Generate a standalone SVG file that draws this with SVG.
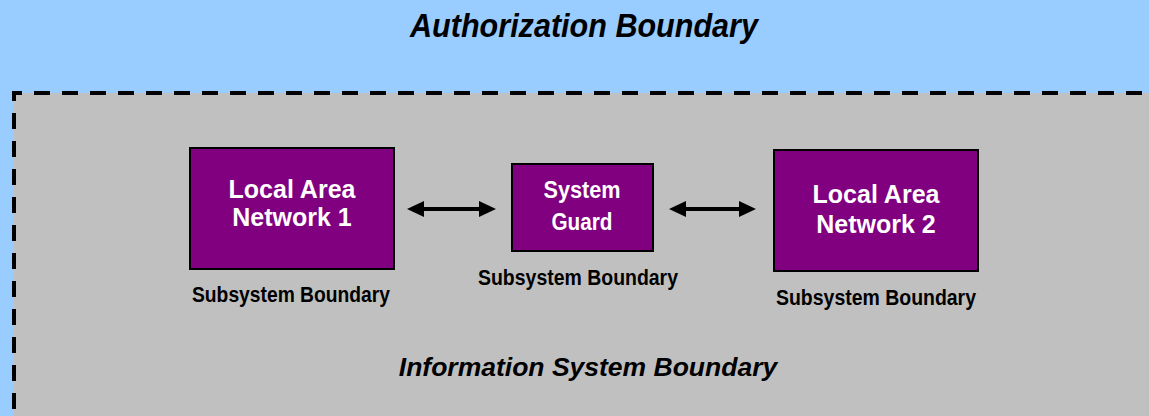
<svg xmlns="http://www.w3.org/2000/svg" width="1149" height="416" viewBox="0 0 1149 416">
  <defs>
    <style>
      .node rect { fill: #800080; stroke: #000000; stroke-width: 2; }
      .node-text { font-family: "Liberation Sans", Arial, sans-serif; font-weight: bold; fill: #FFFFFF; text-anchor: middle; }
      .sub-label { font-family: "Liberation Sans", Arial, sans-serif; font-weight: bold; font-size: 21.5px; fill: #000000; text-anchor: middle; }
      .title { font-family: "Liberation Sans", Arial, sans-serif; font-weight: bold; font-style: italic; fill: #000000; text-anchor: middle; }
      .boundary { fill: none; stroke: #000000; stroke-width: 4; stroke-dasharray: 16 12; stroke-dashoffset: 6; }
      .link { stroke: #000000; stroke-width: 4; fill: none; }
      .head { fill: #000000; }
    </style>
  </defs>

  <!-- outer authorization area -->
  <rect x="0" y="0" width="1149" height="416" fill="#99CCFF"/>
  <text class="title" x="584" y="37" font-size="33" textLength="348" lengthAdjust="spacingAndGlyphs">Authorization Boundary</text>

  <!-- information system area with dashed edge -->
  <g id="information-system">
    <rect x="14" y="93" width="1135" height="323" fill="#C0C0C0"/>
    <line class="boundary" x1="12" y1="93" x2="1149" y2="93"/>
    <line class="boundary" x1="14" y1="91" x2="14" y2="416"/>
    <text class="title" x="588" y="376" font-size="26.5">Information System Boundary</text>
  </g>

  <!-- connectors -->
  <g id="connectors">
    <line class="link" x1="420" y1="209" x2="483" y2="209"/>
    <polygon class="head" points="407,209 424,201 424,217"/>
    <polygon class="head" points="496,209 479,201 479,217"/>
    <line class="link" x1="682" y1="209" x2="743" y2="209"/>
    <polygon class="head" points="669,209 686,201 686,217"/>
    <polygon class="head" points="756,209 739,201 739,217"/>
  </g>

  <g id="lan1" class="node">
    <rect x="190" y="148" width="204" height="121"/>
    <text class="node-text" x="292" y="198" font-size="25">Local Area</text>
    <text class="node-text" x="292" y="226" font-size="25">Network 1</text>
    <text class="sub-label" x="291" y="302" textLength="198" lengthAdjust="spacingAndGlyphs">Subsystem Boundary</text>
  </g>

  <g id="system-guard" class="node">
    <rect x="512" y="164" width="141" height="87"/>
    <text class="node-text" x="582" y="198" font-size="24.5" textLength="77" lengthAdjust="spacingAndGlyphs">System</text>
    <text class="node-text" x="582" y="230" font-size="24.5" textLength="61" lengthAdjust="spacingAndGlyphs">Guard</text>
    <text class="sub-label" x="578" y="285" textLength="200" lengthAdjust="spacingAndGlyphs">Subsystem Boundary</text>
  </g>

  <g id="lan2" class="node">
    <rect x="774" y="150" width="204" height="121"/>
    <text class="node-text" x="876" y="203" font-size="25">Local Area</text>
    <text class="node-text" x="876" y="233" font-size="25">Network 2</text>
    <text class="sub-label" x="876" y="305" textLength="200" lengthAdjust="spacingAndGlyphs">Subsystem Boundary</text>
  </g>
</svg>
